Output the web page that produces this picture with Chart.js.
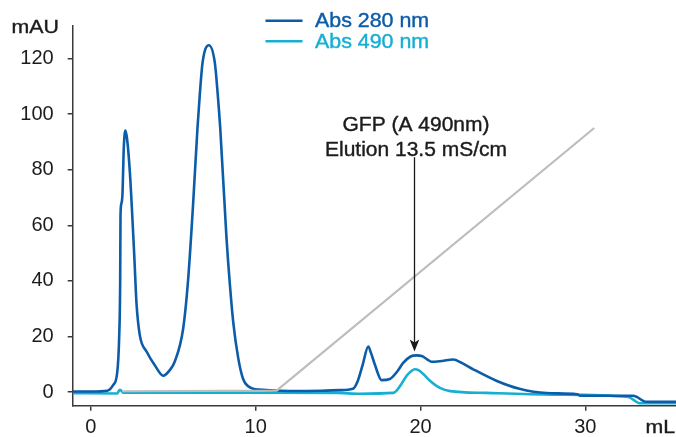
<!DOCTYPE html>
<html>
<head>
<meta charset="utf-8">
<script src="https://cdn.jsdelivr.net/npm/chart.js@4"></script>
<style>
body{margin:0;background:#fff;}
#contenedor{width:676px;height:437px;}
</style>
</head>
<body>
<div id="contenedor"><canvas id="grafica" width="676" height="437"></canvas></div>
<script>

// Volumen (mL) y absorbancia (mAU) de cada traza
var volumen280 = [-1.1, 0, 1.0, 1.35, 1.6, 1.72, 1.78, 1.8, 1.86, 1.92,
	2.0, 2.1, 2.2, 2.37, 2.63, 2.77, 2.97, 3.38, 3.9, 4.39,
	4.8, 5.1, 5.6, 5.9, 6.2, 6.47, 6.61, 6.78, 7.16, 7.52,
	7.7, 7.85, 8.23, 8.43, 8.64, 8.94, 9.24, 9.75, 10.2, 12.0, 14.0,
	15.1, 15.9, 16.2, 16.5, 16.83, 17.0, 17.23, 17.64, 18.14, 18.6,
	18.95, 19.4, 19.76, 20.07, 20.4, 20.67, 21.3, 21.98, 22.5, 23.2,
	24.6, 26.0, 27.65, 29.5, 29.7, 32.9, 33.7, 35.5];
var abs280 = [0.2, 0.2, 0.5, 2.5, 7, 20, 40, 63.7, 68, 71.3,
	88, 94.1, 91, 78.9, 49.7, 32, 20.5, 14.6, 9.5, 5.9,
	8, 11.1, 22.8, 40.3, 67.2, 95, 107, 118.6, 124.8, 118.6,
	107, 95, 55.5, 39.1, 25.1, 12.3, 4.7, 1.4, 0.9, 0.4, 0.5,
	0.7, 1.2, 4.1, 10, 16.4, 14, 9.9, 4.3, 4.7, 7.5,
	10.5, 12.8, 13.2, 13.0, 11.8, 10.9, 11.2, 11.7, 10.5, 8.2,
	4.1, 1.2, -0.35, -0.8, -1.3, -1.3, -3.5, -3.5];

var volumen490 = [-1.1, 1.6, 1.75, 1.85, 1.95, 10, 15, 16.3, 18.35, 18.8,
	19.16, 19.45, 19.66, 19.9, 20.2, 20.57, 21.18, 21.8, 24, 28,
	32.6, 33.3, 35.5];
var abs490 = [-0.4, -0.5, 0.8, 0.5, -0.2, -0.2, -0.3, -0.6, -0.3, 2.5,
	5.9, 7.6, 8.2, 7.8, 6.3, 4.1, 1.5, 0.35, -0.3, -0.9,
	-1.75, -4, -4];

// Gradiente de conductividad (escalado al eje de mAU)
var volumenGradiente = [1.9, 11.27, 30.54];
var gradiente = [0.3, 0.5, 95];

var ticksX = [0, 10, 20, 30];
var ticksY = [0, 20, 40, 60, 80, 100, 120];

var etiquetas = ['Abs 280 nm', 'Abs 490 nm'];
var textoFlecha = ['GFP (A 490nm)', 'Elution 13.5 mS/cm'];
var flechaX = 19.6, flechaDesde = 84.5, flechaHasta = 14.6;

var azul = '#0b5ca9';
var cian = '#16afd4';
var gris = '#bdbdbd';
var colorTexto = '#1e1b1c';
var fuente = '"Liberation Sans", Arial, sans-serif';


function puntos(xs, ys){
	var r = [];
	for (var i = 0; i < xs.length; i++) {
		r.push({x: xs[i], y: ys[i]});
	}
	return r;
}

// texto algo ensanchado y con un trazo fino para darle cuerpo
function texto(ctx, t, x, y, alinear, color, tam, ancho){
	ctx.save();
	ctx.translate(x, y);
	ctx.scale(ancho, 1);
	ctx.font = tam + 'px ' + fuente;
	ctx.fillStyle = color;
	ctx.strokeStyle = color;
	ctx.lineWidth = 0.4;
	ctx.textAlign = alinear;
	ctx.textBaseline = 'alphabetic';
	ctx.fillText(t, 0, 0);
	ctx.strokeText(t, 0, 0);
	ctx.restore();
}

var anotaciones = {
	id: 'anotaciones',
	afterDraw: function(chart){
		var ctx = chart.ctx;
		var sx = chart.scales.x, sy = chart.scales.y;

		// unidades de los ejes
		texto(ctx, 'mAU', 11.5, 33, 'left', colorTexto, 19, 1.12);
		texto(ctx, 'mL', 675, 432.5, 'right', colorTexto, 19, 1.12);

		// leyenda
		var colores = [azul, cian];
		for (var i = 0; i < etiquetas.length; i++) {
			var ly = 20.7 + i * 20.6;
			ctx.save();
			ctx.strokeStyle = colores[i];
			ctx.lineWidth = 2.5;
			ctx.beginPath();
			ctx.moveTo(265.5, ly);
			ctx.lineTo(302.5, ly);
			ctx.stroke();
			ctx.restore();
			texto(ctx, etiquetas[i], 315, ly + 6.2, 'left', colores[i], 20, 1.07);
		}

		// flecha de la elución
		var px = Math.round(sx.getPixelForValue(flechaX)) + 0.5;
		var y0 = sy.getPixelForValue(flechaDesde);
		var y1 = sy.getPixelForValue(flechaHasta);
		texto(ctx, textoFlecha[0], px + 1.5, y0 - 26.5, 'center', colorTexto, 20, 1.05);
		texto(ctx, textoFlecha[1], px + 1.5, y0 - 1.5, 'center', colorTexto, 20, 1.05);
		ctx.save();
		ctx.strokeStyle = '#1a1a1a';
		ctx.fillStyle = '#1a1a1a';
		ctx.lineWidth = 1.3;
		ctx.beginPath();
		ctx.moveTo(px, y0);
		ctx.lineTo(px, y1 - 8);
		ctx.stroke();
		ctx.beginPath();
		ctx.moveTo(px, y1);
		ctx.lineTo(px - 4.8, y1 - 12);
		ctx.lineTo(px, y1 - 9);
		ctx.lineTo(px + 4.8, y1 - 12);
		ctx.closePath();
		ctx.fill();
		ctx.restore();
	}
};

var ejes = {
	border: {display: true, color: '#3a3a3a', width: 1.5},
	grid: {display: true, drawOnChartArea: false, drawTicks: true, tickLength: 5, color: '#3a3a3a', lineWidth: 1.5}
};

var grafica = new Chart(document.getElementById('grafica'), {
	type: 'line',
	data: {
		datasets: [{
			label: 'Gradiente',
			data: puntos(volumenGradiente, gradiente),
			borderColor: gris,
			borderWidth: 2.2,
			tension: 0,
			pointRadius: 0
		}, {
			label: etiquetas[0],
			data: puntos(volumen280, abs280),
			borderColor: azul,
			borderWidth: 2.6,
			cubicInterpolationMode: 'monotone',
			pointRadius: 0
		}, {
			label: etiquetas[1],
			data: puntos(volumen490, abs490),
			borderColor: cian,
			borderWidth: 2.6,
			cubicInterpolationMode: 'monotone',
			pointRadius: 0
		}]
	},
	options: {
		responsive: false,
		animation: false,
		devicePixelRatio: 1,
		layout: {padding: {top: 16, right: 0, left: 0, bottom: 0}},
		plugins: {legend: {display: false}, tooltip: {enabled: false}},
		scales: {
			x: {
				type: 'linear',
				min: -1.1,
				max: 35.5,
				border: ejes.border,
				grid: ejes.grid,
				afterBuildTicks: function(eje){
					eje.ticks = ticksX.map(function(v){ return {value: v}; });
				},
				afterFit: function(eje){ eje.height = 31.3; },
				ticks: {
					color: colorTexto,
					padding: 4.5,
					maxRotation: 0,
					font: {family: fuente, size: 20}
				}
			},
			y: {
				type: 'linear',
				min: -4.9,
				max: 131.7,
				border: ejes.border,
				grid: ejes.grid,
				afterBuildTicks: function(eje){
					eje.ticks = ticksY.map(function(v){ return {value: v}; });
				},
				afterFit: function(eje){ eje.width = 72.7; },
				ticks: {
					color: colorTexto,
					padding: 14,
					font: {family: fuente, size: 20}
				}
			}
		}
	},
	plugins: [anotaciones]
});
</script>
</body>
</html>
